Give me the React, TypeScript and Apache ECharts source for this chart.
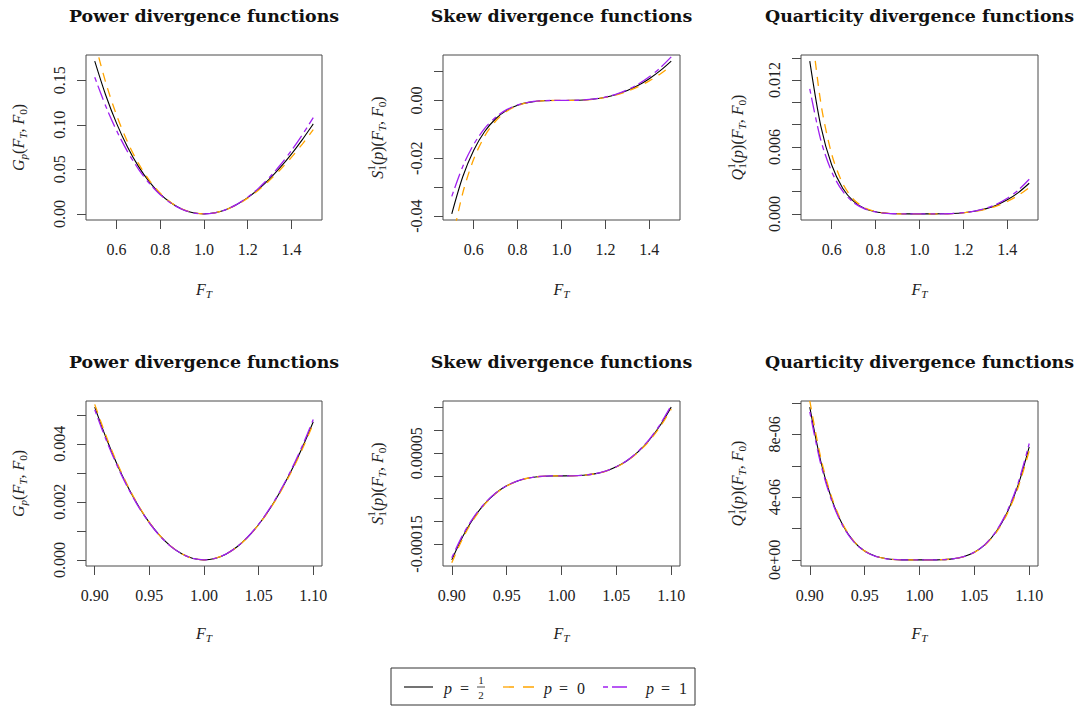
import React, { useEffect, useRef } from "react";
import * as echarts from "echarts";

// ---------- data ----------
const xTop = [0.5, 0.55, 0.6, 0.65, 0.7, 0.75, 0.8, 0.85, 0.9, 0.95, 1.0, 1.05, 1.1, 1.15, 1.2, 1.25, 1.3, 1.35, 1.4, 1.45, 1.5];
const xBottom = [0.9, 0.91, 0.92, 0.93, 0.94, 0.95, 0.96, 0.97, 0.98, 0.99, 1.0, 1.01, 1.02, 1.03, 1.04, 1.05, 1.06, 1.07, 1.08, 1.09, 1.1];

// power divergence, wide range
const powerHalfTop = [0.17157, 0.13352, 0.10161, 0.0751, 0.05336, 0.0359, 0.02229, 0.01218, 0.005266, 0.001282, 0, 0.00122, 0.004764, 0.010478, 0.01822, 0.027864, 0.039298, 0.05242, 0.067136, 0.083362, 0.10102];
const powerZeroTop = [0.19315, 0.14784, 0.11083, 0.08078, 0.05668, 0.03768, 0.02314, 0.01252, 0.005361, 0.001293, 0, 0.00121, 0.00469, 0.010238, 0.017678, 0.026856, 0.037636, 0.049895, 0.063528, 0.078436, 0.094535];
const powerOneTop = [0.15343, 0.12119, 0.0935, 0.06999, 0.05033, 0.03424, 0.02149, 0.01186, 0.005175, 0.001272, 0, 0.00123, 0.004841, 0.010726, 0.018786, 0.02893, 0.041073, 0.055142, 0.071061, 0.088768, 0.1082];

// skew divergence, wide range
const skewHalfTop = [-0.03925, -0.026411, -0.017209, -0.010742, -0.0063273, -0.0034365, -0.0016564, -0.00065956, -0.00018488, -0.0000219, 0, 0.0000198, 0.00015131, 0.00048795, 0.0011066, 0.0020704, 0.0034318, 0.005234, 0.007512, 0.010296, 0.013607];
const skewZeroTop = [-0.049158, -0.032051, -0.020295, -0.01234, -0.0070951, -0.0037682, -0.0017788, -0.00069465, -0.00019127, -0.0000223, 0, 0.0000195, 0.00014688, 0.00046693, 0.0010449, 0.0019304, 0.0031613, 0.0047654, 0.0067635, 0.0091708, 0.011995];
const skewOneTop = [-0.033191, -0.022838, -0.015191, -0.009666, -0.0057956, -0.0032009, -0.0015673, -0.00063351, -0.00018011, -0.0000215, 0, 0.0000203, 0.00015499, 0.00050537, 0.0011586, 0.0021904, 0.0036669, 0.005647, 0.0081803, 0.011314, 0.015083];

// quarticity divergence, wide range
const quartHalfTop = [0.0137, 0.0079, 0.00438, 0.0023048, 0.0011254, 0.00049345, 0.00018463, 0.000053566, 0.000009736, 0.000000561, 0, 0.000000484, 0.000007208, 0.000034086, 0.0001008, 0.00023077, 0.00044954, 0.00078389, 0.0012608, 0.0019071, 0.0027492];
const quartZeroTop = [0.017991, 0.0099855, 0.0053481, 0.0027262, 0.0012928, 0.00055168, 0.00020127, 0.000057034, 0.000010145, 0.000000572, 0, 0.000000475, 0.000006953, 0.000032317, 0.000094036, 0.00021202, 0.00040701, 0.00069975, 0.0011104, 0.0016578, 0.0023601];
const quartOneTop = [0.011203, 0.0066355, 0.0037712, 0.0020305, 0.0010129, 0.00045315, 0.00017277, 0.000051037, 0.0000094354, 0.000000553, 0, 0.000000491, 0.000007419, 0.000035552, 0.00010651, 0.00024691, 0.00048675, 0.00085868, 0.0013966, 0.0021354, 0.0031108];

// power divergence, narrow range
const powerHalfBottom = [0.0052668, 0.0042432, 0.0033348, 0.0025397, 0.0018561, 0.0012823, 0.00081642, 0.00045688, 0.00020202, 0.000050252, 0, 0.000049752, 0.00019802, 0.00044338, 0.00078438, 0.0012197, 0.0017479, 0.0023678, 0.0030781, 0.0038774, 0.0047646];
const powerZeroBottom = [0.0053605, 0.0043107, 0.0033816, 0.0025707, 0.0018754, 0.0012933, 0.000822, 0.0004592, 0.0002027, 0.0000503, 0, 0.0000497, 0.0001974, 0.0004412, 0.0007793, 0.0012098, 0.0017311, 0.0023414, 0.003039, 0.0038223, 0.0046898];
const powerOneBottom = [0.0051755, 0.0041773, 0.0032889, 0.0025092, 0.0018371, 0.0012714, 0.0008109, 0.0004546, 0.0002014, 0.0000502, 0, 0.0000498, 0.0001987, 0.0004456, 0.0007895, 0.0012297, 0.001765, 0.0023947, 0.0031179, 0.0039337, 0.0048412];

// skew divergence, narrow range
const skewHalfBottom = [-1.8493e-4, -1.3337e-4, -9.2674e-5, -6.1429e-5, -3.828e-5, -2.1923e-5, -1.1109e-5, -4.6387e-6, -1.3604e-6, -1.6835e-7, 0, 1.6502e-7, 1.3071e-6, 4.3685e-6, 1.0254e-5, 1.9836e-5, 3.3948e-5, 5.3394e-5, 7.8955e-5, 1.1137e-4, 1.5134e-4];
const skewZeroBottom = [-1.9124e-4, -1.3744e-4, -9.5158e-5, -6.286e-5, -3.9042e-5, -2.2283e-5, -1.1253e-5, -4.6837e-6, -1.3692e-6, -1.6889e-7, 0, 1.6449e-7, 1.2989e-6, 4.3279e-6, 1.0128e-5, 1.9529e-5, 3.3327e-5, 5.2262e-5, 7.706e-5, 1.0839e-4, 1.4686e-4];
const skewOneBottom = [-1.801e-4, -1.3025e-4, -9.0756e-5, -6.0323e-5, -3.769e-5, -2.1645e-5, -1.0997e-5, -4.6034e-6, -1.3535e-6, -1.6793e-7, 0, 1.6545e-7, 1.3136e-6, 4.4008e-6, 1.0354e-5, 2.0082e-5, 3.4447e-5, 5.4307e-5, 8.0487e-5, 1.1379e-4, 1.5497e-4];

// quarticity divergence, narrow range
const quartHalfBottom = [9.7397e-6, 6.2879e-6, 3.8631e-6, 2.2287e-6, 1.1842e-6, 5.6222e-7, 2.2675e-7, 7.0643e-8, 1.3741e-8, 8.46e-10, 0, 8.21e-10, 1.2942e-8, 6.4563e-8, 2.0108e-7, 4.8388e-7, 9.8898e-7, 1.8061e-6, 3.0378e-6, 4.7979e-6, 7.2107e-6];
const quartZeroBottom = [1.0143e-5, 6.5206e-6, 3.9887e-6, 2.2918e-6, 1.2127e-6, 5.7335e-7, 2.3033e-7, 7.1477e-8, 1.3848e-8, 8.49e-10, 0, 8.18e-10, 1.2844e-8, 6.384e-8, 1.981e-7, 4.7483e-7, 9.6712e-7, 1.7597e-6, 2.9497e-6, 4.6424e-6, 6.9533e-6];
const quartOneBottom = [9.4358e-6, 6.1118e-6, 3.7673e-6, 2.1806e-6, 1.1623e-6, 5.5362e-7, 2.2398e-7, 7.0e-8, 1.3657e-8, 8.43e-10, 0, 8.24e-10, 1.302e-8, 6.5138e-8, 2.0345e-7, 4.9109e-7, 1.0064e-6, 1.8433e-6, 3.1086e-6, 4.9231e-6, 7.4191e-6];

// ---------- tick marks and labels ----------
const xTicksTop = [0.6, 0.8, 1.0, 1.2, 1.4];
const xLabelsTop = ["0.6", "0.8", "1.0", "1.2", "1.4"];
const xTicksBottom = [0.9, 0.95, 1.0, 1.05, 1.1];
const xLabelsBottom = ["0.90", "0.95", "1.00", "1.05", "1.10"];

const yTicksPowerTop = [0, 0.05, 0.1, 0.15];
const yLabelValsPowerTop = [0, 0.05, 0.1, 0.15];
const yLabelsPowerTop = ["0.00", "0.05", "0.10", "0.15"];

const yTicksSkewTop = [-0.04, -0.03, -0.02, -0.01, 0, 0.01];
const yLabelValsSkewTop = [-0.04, -0.02, 0];
const yLabelsSkewTop = ["-0.04", "-0.02", "0.00"];

const yTicksQuartTop = [0, 0.002, 0.004, 0.006, 0.008, 0.01, 0.012, 0.014];
const yLabelValsQuartTop = [0, 0.006, 0.012];
const yLabelsQuartTop = ["0.000", "0.006", "0.012"];

const yTicksPowerBottom = [0, 0.001, 0.002, 0.003, 0.004, 0.005];
const yLabelValsPowerBottom = [0, 0.002, 0.004];
const yLabelsPowerBottom = ["0.000", "0.002", "0.004"];

const yTicksSkewBottom = [-0.00015, -0.0001, -0.00005, 0, 0.00005, 0.0001, 0.00015];
const yLabelValsSkewBottom = [-0.00015, 0.00005];
const yLabelsSkewBottom = ["-0.00015", "0.00005"];

const yTicksQuartBottom = [0, 2e-6, 4e-6, 6e-6, 8e-6, 1e-5];
const yLabelValsQuartBottom = [0, 4e-6, 8e-6];
const yLabelsQuartBottom = ["0e+00", "4e-06", "8e-06"];

const titles = ["Power divergence functions", "Skew divergence functions", "Quarticity divergence functions"];

// ---------- styling ----------
const FONT = "Liberation Serif, serif";
const TITLE_FONT = "DejaVu Serif, serif";
const BLACK = "#000000";
const ORANGE = "#FFA500";
const PURPLE = "#A020F0";
const AXIS_COLOR = "#4a4a4a";
const TEXT_COLOR = "#222222";

const cols = [
  { left: 86, width: 236, nameX: 18.5 },
  { left: 443, width: 237, nameX: 377.5 },
  { left: 801, width: 237, nameX: 737.5 },
];
const rows = [
  { top: 55, height: 165, titleY: 15.5, xNameY: 289 },
  { top: 401, height: 165, titleY: 362, xNameY: 633 },
];

type Piece = { t: string; it?: boolean; sub?: boolean; stack?: string };

let measureCtx: CanvasRenderingContext2D | null = null;
function measure(text: string, size: number, italic: boolean): number {
  if (!measureCtx) {
    const c = document.createElement("canvas");
    measureCtx = c.getContext("2d");
  }
  if (!measureCtx) return text.length * size * 0.5;
  measureCtx.font = `${italic ? "italic " : ""}${size}px "Liberation Serif", serif`;
  return measureCtx.measureText(text).width;
}

function txt(t: string, x: number, y: number, size: number, italic: boolean, align = "left") {
  return {
    type: "text",
    x,
    y,
    style: {
      text: t,
      fontSize: size,
      fontFamily: FONT,
      fontStyle: italic ? "italic" : "normal",
      fill: TEXT_COLOR,
      align,
      verticalAlign: "middle",
    },
  };
}

// lays out a small formula as a row of text pieces, centred on (0,0)
function mathRun(pieces: Piece[], size: number) {
  const kids: any[] = [];
  let x = 0;
  for (const p of pieces) {
    const fs = p.sub ? size * 0.7 : size;
    const dy = p.sub ? size * 0.3 : 0;
    const w = measure(p.t, fs, !!p.it);
    kids.push(txt(p.t, x, dy, fs, !!p.it));
    let adv = w;
    if (p.stack) {
      kids.push(txt(p.stack, x, -size * 0.38, fs, false));
      adv = Math.max(w, measure(p.stack, fs, false));
    }
    x += adv;
  }
  for (const k of kids) k.x -= x / 2;
  return kids;
}

const argPieces: Piece[] = [
  { t: "(" },
  { t: "F", it: true },
  { t: "T", it: true, sub: true },
  { t: ", " },
  { t: "F", it: true },
  { t: "0", sub: true },
  { t: ")" },
];
const yNames: Piece[][] = [
  [{ t: "G", it: true }, { t: "p", it: true, sub: true }, ...argPieces],
  [{ t: "S", it: true }, { t: "1", sub: true, stack: "1" }, { t: "(" }, { t: "p", it: true }, { t: ")" }, ...argPieces],
  [{ t: "Q", it: true }, { t: "1", sub: true, stack: "1" }, { t: "(" }, { t: "p", it: true }, { t: ")" }, ...argPieces],
];
const xNamePieces: Piece[] = [{ t: "F", it: true }, { t: "T", it: true, sub: true }];

type Panel = {
  xs: number[];
  half: number[];
  zero: number[];
  one: number[];
  xTicks: number[];
  xLabels: string[];
  yTicks: number[];
  yLabelVals: number[];
  yLabels: string[];
};

const panels: Panel[] = [
  { xs: xTop, half: powerHalfTop, zero: powerZeroTop, one: powerOneTop, xTicks: xTicksTop, xLabels: xLabelsTop, yTicks: yTicksPowerTop, yLabelVals: yLabelValsPowerTop, yLabels: yLabelsPowerTop },
  { xs: xTop, half: skewHalfTop, zero: skewZeroTop, one: skewOneTop, xTicks: xTicksTop, xLabels: xLabelsTop, yTicks: yTicksSkewTop, yLabelVals: yLabelValsSkewTop, yLabels: yLabelsSkewTop },
  { xs: xTop, half: quartHalfTop, zero: quartZeroTop, one: quartOneTop, xTicks: xTicksTop, xLabels: xLabelsTop, yTicks: yTicksQuartTop, yLabelVals: yLabelValsQuartTop, yLabels: yLabelsQuartTop },
  { xs: xBottom, half: powerHalfBottom, zero: powerZeroBottom, one: powerOneBottom, xTicks: xTicksBottom, xLabels: xLabelsBottom, yTicks: yTicksPowerBottom, yLabelVals: yLabelValsPowerBottom, yLabels: yLabelsPowerBottom },
  { xs: xBottom, half: skewHalfBottom, zero: skewZeroBottom, one: skewOneBottom, xTicks: xTicksBottom, xLabels: xLabelsBottom, yTicks: yTicksSkewBottom, yLabelVals: yLabelValsSkewBottom, yLabels: yLabelsSkewBottom },
  { xs: xBottom, half: quartHalfBottom, zero: quartZeroBottom, one: quartOneBottom, xTicks: xTicksBottom, xLabels: xLabelsBottom, yTicks: yTicksQuartBottom, yLabelVals: yLabelValsQuartBottom, yLabels: yLabelsQuartBottom },
];

// R-style range: data extent padded by 4% on each side
function padded(arr: number[]): [number, number] {
  const lo = Math.min(...arr);
  const hi = Math.max(...arr);
  const pad = (hi - lo) * 0.04;
  return [lo - pad, hi + pad];
}

function labelFor(vals: number[], texts: string[]) {
  return (v: number) => {
    const i = vals.findIndex((a) => Math.abs(a - v) < 1e-12);
    return i >= 0 ? texts[i] : "";
  };
}

function buildOption() {
  const grid: any[] = [];
  const xAxis: any[] = [];
  const yAxis: any[] = [];
  const series: any[] = [];
  const graphic: any[] = [];

  panels.forEach((p, i) => {
    const col = cols[i % 3];
    const row = rows[Math.floor(i / 3)];
    grid.push({
      left: col.left,
      top: row.top,
      width: col.width,
      height: row.height,
      show: true,
      borderColor: AXIS_COLOR,
      borderWidth: 1,
      backgroundColor: "transparent",
    });
    const [xMin, xMax] = padded(p.xs);
    const [yMin, yMax] = padded(p.half);
    xAxis.push({
      type: "value",
      gridIndex: i,
      min: xMin,
      max: xMax,
      position: "bottom",
      axisLine: { show: false, onZero: false },
      splitLine: { show: false },
      axisTick: { show: true, length: 9, customValues: p.xTicks, lineStyle: { color: AXIS_COLOR, width: 1 } },
      axisLabel: {
        customValues: p.xTicks,
        formatter: labelFor(p.xTicks, p.xLabels),
        margin: 21,
        fontFamily: FONT,
        fontSize: 16,
        color: TEXT_COLOR,
      },
    });
    yAxis.push({
      type: "value",
      gridIndex: i,
      min: yMin,
      max: yMax,
      position: "left",
      axisLine: { show: false, onZero: false },
      splitLine: { show: false },
      axisTick: { show: true, length: 9, customValues: p.yTicks, lineStyle: { color: AXIS_COLOR, width: 1 } },
      axisLabel: {
        customValues: p.yLabelVals,
        formatter: labelFor(p.yLabelVals, p.yLabels),
        rotate: 90,
        margin: 19,
        fontFamily: FONT,
        fontSize: 16,
        color: TEXT_COLOR,
      },
    });
    const line = (arr: number[], name: string, color: string, width: number, type: any) => ({
      type: "line",
      name,
      xAxisIndex: i,
      yAxisIndex: i,
      data: p.xs.map((x, j) => [x, arr[j]]),
      showSymbol: false,
      symbol: "none",
      smooth: 0.3,
      clip: true,
      lineStyle: { color, width, type },
      silent: true,
    });
    series.push(line(p.half, "p = 1/2", BLACK, 1.1, "solid"));
    series.push(line(p.zero, "p = 0", ORANGE, 1.3, [9, 7]));
    series.push(line(p.one, "p = 1", PURPLE, 1.3, [5, 4, 15, 5]));

    const cx = col.left + col.width / 2;
    const cy = row.top + row.height / 2;
    graphic.push({
      type: "text",
      x: cx,
      y: row.titleY,
      style: {
        text: titles[i % 3],
        fontFamily: TITLE_FONT,
        fontWeight: "bold",
        fontSize: 17.4,
        fill: "#111",
        align: "center",
        verticalAlign: "middle",
      },
    });
    graphic.push({ type: "group", x: cx, y: row.xNameY, children: mathRun(xNamePieces, 16) });
    graphic.push({
      type: "group",
      x: col.nameX,
      y: cy,
      rotation: Math.PI / 2,
      children: mathRun(yNames[i % 3], 16),
    });
  });

  // legend box
  const ly = 687;
  graphic.push({
    type: "rect",
    shape: { x: 391, y: 668, width: 304, height: 37 },
    style: { fill: "#fff", stroke: "#333", lineWidth: 1 },
  });
  graphic.push({ type: "line", shape: { x1: 404, y1: ly, x2: 433, y2: ly }, style: { stroke: BLACK, lineWidth: 1.1 } });
  graphic.push({ type: "line", shape: { x1: 503, y1: ly, x2: 535, y2: ly }, style: { stroke: ORANGE, lineWidth: 1.3, lineDash: [11, 9] } });
  graphic.push({ type: "line", shape: { x1: 603, y1: ly, x2: 627, y2: ly }, style: { stroke: PURPLE, lineWidth: 1.3, lineDash: [5, 4, 15, 6] } });

  graphic.push(txt("p", 444, ly + 1, 16, true));
  graphic.push(txt("=", 460, ly + 1, 16, false));
  graphic.push(txt("1", 481, ly - 7, 11, false, "center"));
  graphic.push({ type: "line", shape: { x1: 477, y1: ly, x2: 485, y2: ly }, style: { stroke: TEXT_COLOR, lineWidth: 0.8 } });
  graphic.push(txt("2", 481, ly + 7.5, 11, false, "center"));

  graphic.push(txt("p", 544, ly + 1, 16, true));
  graphic.push(txt("=", 559, ly + 1, 16, false));
  graphic.push(txt("0", 577, ly + 1, 16, false));

  graphic.push(txt("p", 646, ly + 1, 16, true));
  graphic.push(txt("=", 661, ly + 1, 16, false));
  graphic.push(txt("1", 679, ly + 1, 16, false));

  return {
    animation: false,
    backgroundColor: "#ffffff",
    grid,
    xAxis,
    yAxis,
    series,
    graphic,
  };
}

export default function App() {
  const ref = useRef<HTMLDivElement>(null);
  useEffect(() => {
    if (!ref.current) return;
    const chart = echarts.init(ref.current, undefined, { renderer: "svg" });
    chart.setOption(buildOption() as any);
    return () => chart.dispose();
  }, []);
  return (
    <div
      ref={ref}
      style={{ position: "absolute", left: 0, top: 0, width: 1082, height: 707, background: "#fff" }}
    />
  );
}
